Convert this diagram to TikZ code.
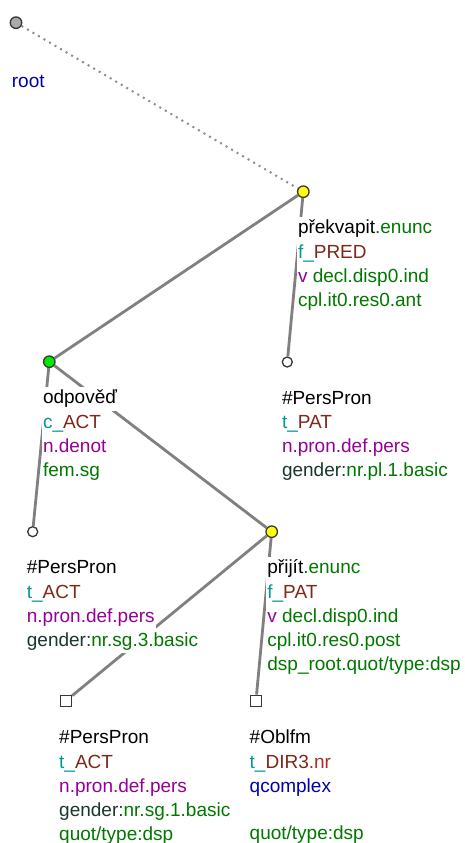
\documentclass[tikz,border=0pt]{standalone}
\usepackage{fontspec}
\setmainfont{Liberation Sans}
\usetikzlibrary{positioning,calc}
\definecolor{edgegray}{RGB}{128,128,128}
\definecolor{rimgray}{RGB}{55,55,55}
\definecolor{rootgray}{RGB}{170,170,170}
\definecolor{headyellow}{RGB}{255,255,0}
\definecolor{headgreen}{RGB}{0,235,0}
\definecolor{lemgreen}{RGB}{0,120,0}
\definecolor{funteal}{RGB}{0,150,150}
\definecolor{funbrown}{RGB}{125,40,25}
\definecolor{sempurple}{RGB}{150,0,150}
\definecolor{rootblue}{RGB}{0,0,170}
\definecolor{nrred}{RGB}{175,45,40}
\definecolor{gramdark}{RGB}{25,55,45}
\newcommand{\cgreen}[1]{\textcolor{lemgreen}{#1}}
\newcommand{\cteal}[1]{\textcolor{funteal}{#1}}
\newcommand{\cbrown}[1]{\textcolor{funbrown}{#1}}
\newcommand{\cpurple}[1]{\textcolor{sempurple}{#1}}
\newcommand{\cblue}[1]{\textcolor{rootblue}{#1}}
\newcommand{\cred}[1]{\textcolor{nrred}{#1}}
\newcommand{\cdark}[1]{\textcolor{gramdark}{#1}}

\begin{document}
\begin{tikzpicture}[x=1pt, y=-1pt,
    font=\fontsize{19}{23}\selectfont,
    tnode/.style={circle, draw=rimgray, line width=1.3pt, minimum size=11.5pt, inner sep=0pt},
    leaf/.style={tnode, fill=white, minimum size=10pt},
    cplx/.style={rectangle, draw=rimgray, line width=1.3pt, fill=white, minimum size=11pt, inner sep=0pt},
    dep/.style={draw=edgegray, line width=2.8pt},
    rootdep/.style={draw=edgegray!90, line width=2pt, dash pattern=on 2pt off 4.4pt},
    ln/.style={fill=white, inner xsep=1pt, inner ysep=1.5pt, text height=15.5pt, text depth=5.2pt, anchor=north west},
    nl/.style={below=0pt of #1.south west, anchor=north west}]
    \useasboundingbox (0,0) rectangle (464,843);
    % tree nodes
    \node[tnode, fill=rootgray] (root) at (16,22.7) {};
    \node[tnode, fill=headyellow] (pk) at (303.3,191.7) {};
    \node[tnode, fill=headgreen] (odp) at (49.3,361.7) {};
    \node[leaf] (ppat) at (287.3,362) {};
    \node[leaf] (pact) at (32.7,531.7) {};
    \node[tnode, fill=headyellow] (prij) at (271.7,531.7) {};
    \node[cplx] (psq) at (66,700.7) {};
    \node[cplx] (obl) at (256,700.7) {};
    % dependencies
    \draw[rootdep] (root) -- (pk);
    \draw[dep] (pk) -- (odp);
    \draw[dep] (pk) -- (ppat);
    \draw[dep] (odp) -- (pact);
    \draw[dep] (odp) -- (prij);
    \draw[dep] (prij) -- (psq);
    \draw[dep] (prij) -- (obl);
    % labels
    \node[ln] (root1) at ($(root)+(-5.3,47.3)$) {\cblue{root}};

    \node[ln] (pk1) at ($(pk)+(-6.5,25)$) {překvapit\cgreen{.enunc}};
    \node[ln, nl=pk1] (pk2) {\cteal{f\_}\cbrown{PRED}};
    \node[ln, nl=pk2] (pk3) {\cpurple{v} \cgreen{decl.disp0.ind}};
    \node[ln, nl=pk3] (pk4) {\cgreen{cpl.it0.res0.ant}};

    \node[ln] (odp1) at ($(odp)+(-7.5,25)$) {odpověď};
    \node[ln, nl=odp1] (odp2) {\cteal{c\_}\cbrown{ACT}};
    \node[ln, nl=odp2] (odp3) {\cpurple{n.denot}};
    \node[ln, nl=odp3] (odp4) {\cgreen{fem.sg}};

    \node[ln] (ppat1) at ($(ppat)+(-6.5,25)$) {\#PersPron};
    \node[ln, nl=ppat1] (ppat2) {\cteal{t\_}\cbrown{PAT}};
    \node[ln, nl=ppat2] (ppat3) {\cpurple{n.pron.def.pers}};
    \node[ln, nl=ppat3] (ppat4) {\cdark{gender:}\cgreen{nr.pl.1.basic}};

    \node[ln] (pact1) at ($(pact)+(-7,25)$) {\#PersPron};
    \node[ln, nl=pact1] (pact2) {\cteal{t\_}\cbrown{ACT}};
    \node[ln, nl=pact2] (pact3) {\cpurple{n.pron.def.pers}};
    \node[ln, nl=pact3] (pact4) {\cdark{gender:}\cgreen{nr.sg.3.basic}};

    \node[ln] (prij1) at ($(prij)+(-5.5,25)$) {přijít\cgreen{.enunc}};
    \node[ln, nl=prij1] (prij2) {\cteal{f\_}\cbrown{PAT}};
    \node[ln, nl=prij2] (prij3) {\cpurple{v} \cgreen{decl.disp0.ind}};
    \node[ln, nl=prij3] (prij4) {\cgreen{cpl.it0.res0.post}};
    \node[ln, nl=prij4] (prij5) {\cgreen{dsp\_root.quot/type:dsp}};

    \node[ln] (psq1) at ($(psq)+(-8,26)$) {\#PersPron};
    \node[ln, nl=psq1] (psq2) {\cteal{t\_}\cbrown{ACT}};
    \node[ln, nl=psq2] (psq3) {\cpurple{n.pron.def.pers}};
    \node[ln, nl=psq3] (psq4) {\cdark{gender:}\cgreen{nr.sg.1.basic}};
    \node[ln, nl=psq4] (psq5) {\cgreen{quot/type:dsp}};

    \node[ln] (obl1) at ($(obl)+(-7.5,26)$) {\#Oblfm};
    \node[ln, nl=obl1] (obl2) {\cteal{t\_}\cbrown{DIR3}\cred{.nr}};
    \node[ln, nl=obl2] (obl3) {\cblue{qcomplex}};
    \node[ln, below=23.7pt of obl3.south west, anchor=north west] (obl5) {\cgreen{quot/type:dsp}};
\end{tikzpicture}
\end{document}
